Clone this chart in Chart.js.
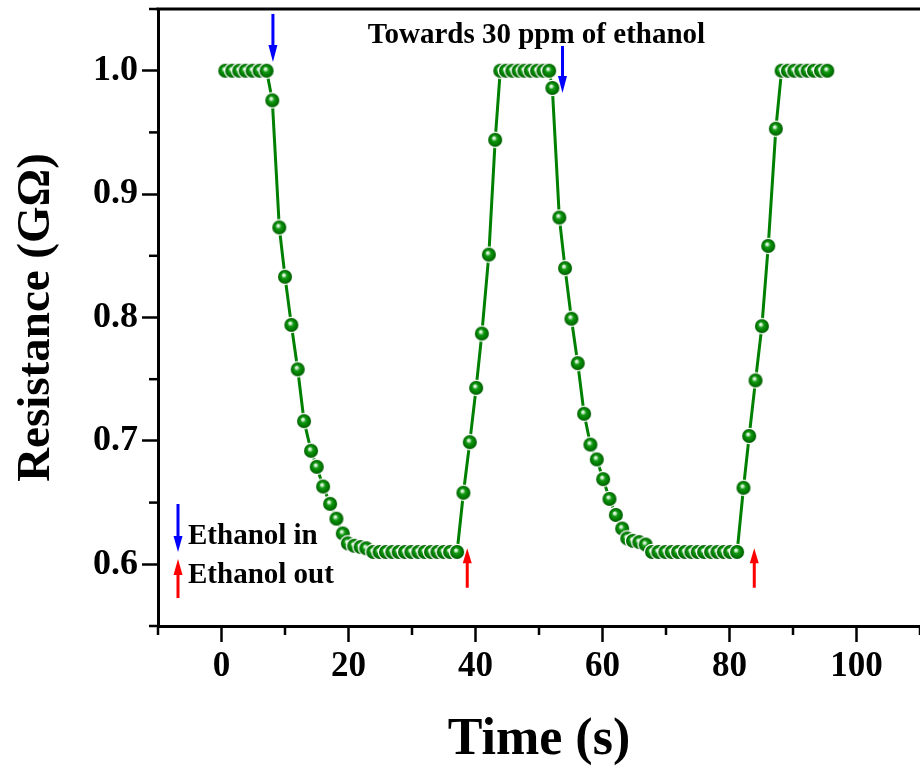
<!DOCTYPE html>
<html><head><meta charset="utf-8">
<script src="https://cdn.jsdelivr.net/npm/chart.js@4.4.1/dist/chart.umd.min.js"></script>
<style>html,body{margin:0;padding:0;background:#fff;}#wrap{width:920px;height:774px;}</style>
</head><body><div id="wrap"><canvas id="c" width="920" height="774"></canvas></div>
<script>
// ---- data ----
const timeS = [
  0.6,1.7,2.8,3.8,4.9,6.0,7.1,
  8.0,9.1,10.0,11.0,12.0,13.0,14.1,15.0,16.0,17.1,18.1,19.1,19.9,20.9,21.9,22.8,
  23.9,24.9,25.9,26.9,27.9,28.9,29.9,31.0,32.0,33.0,34.0,35.0,36.0,37.1,
  38.1,39.1,40.1,41.0,42.1,43.1,
  43.9,44.8,45.8,46.8,47.7,48.7,49.7,50.7,51.6,
  52.1,53.2,54.1,55.1,56.1,57.1,58.1,59.1,60.1,61.1,62.1,63.1,63.9,64.8,65.8,66.8,
  67.8,68.8,69.9,70.9,71.9,73.0,74.0,75.0,76.0,77.1,78.1,79.1,80.1,81.2,
  82.2,83.1,84.1,85.1,86.1,87.3,
  88.2,89.2,90.2,91.3,92.3,93.3,94.4,95.4
];
const resistanceGOhm = [
  1.0,1.0,1.0,1.0,1.0,1.0,1.0,
  0.976,0.873,0.833,0.794,0.758,0.716,0.692,0.679,0.663,0.649,0.637,0.625,0.617,0.615,0.614,0.613,
  0.61,0.61,0.61,0.61,0.61,0.61,0.61,0.61,0.61,0.61,0.61,0.61,0.61,0.61,
  0.658,0.699,0.743,0.787,0.851,0.944,
  1.0,1.0,1.0,1.0,1.0,1.0,1.0,1.0,1.0,
  0.986,0.881,0.840,0.799,0.763,0.722,0.697,0.685,0.669,0.653,0.640,0.629,0.621,0.619,0.618,0.616,
  0.61,0.61,0.61,0.61,0.61,0.61,0.61,0.61,0.61,0.61,0.61,0.61,0.61,0.61,
  0.662,0.704,0.749,0.793,0.858,0.953,
  1.0,1.0,1.0,1.0,1.0,1.0,1.0,1.0
];
const xTickLabels = ['0','20','40','60','80','100'];
const yTickLabels = ['0.6','0.7','0.8','0.9','1.0'];
const ethanolInTimes = [8.1, 53.7];
const ethanolInFrom  = [1.046, 1.020];
const ethanolInTo    = [1.007, 0.982];
const ethanolOutTimes = [38.7, 83.9];
const ethanolOutFrom  = [0.581, 0.581];
const ethanolOutTo    = [0.613, 0.613];
const noteText = 'Towards 30 ppm of ethanol';
const noteAt = [49.6, 1.0228];
const legendLabels = ['Ethanol in', 'Ethanol out'];
const xTitle = 'Time (s)';
const yTitle = 'Resistance (GΩ)';

// ---- styling ----
const SERIF = '"Liberation Serif", "Times New Roman", serif';
const GREEN = '#008000';

function sphere(r){
  const s = Math.ceil(2*r + 4);
  const c = document.createElement('canvas'); c.width = c.height = s;
  const g = c.getContext('2d'); const cx = s/2, cy = s/2;
  g.fillStyle = '#ffffff'; g.beginPath(); g.arc(cx, cy, r + 1.3, 0, 2*Math.PI); g.fill();
  const gr = g.createRadialGradient(cx - r*0.2, cy - r*0.3, 0, cx, cy, r);
  gr.addColorStop(0, '#ffffff');
  gr.addColorStop(0.18, '#c8ecc8');
  gr.addColorStop(0.4, '#159a15');
  gr.addColorStop(0.75, '#007a00');
  gr.addColorStop(1, '#005a00');
  g.fillStyle = gr; g.beginPath(); g.arc(cx, cy, r, 0, 2*Math.PI); g.fill();
  return c;
}
const ball = sphere(7);

function isMajorX(v){ return xTickLabels.indexOf(String(Math.round(v))) >= 0 && Math.abs(v - Math.round(v)) < 1e-6; }
function yLabel(v){ const r = Math.round(v*100); return (r % 10 === 0) ? (r/100).toFixed(1) : ''; }
function isMajorY(v){ return yTickLabels.indexOf(yLabel(v)) >= 0; }

function arrow(ctx, x, yTail, yTip, color, head, hw){
  const dir = Math.sign(yTip - yTail);
  ctx.save();
  ctx.strokeStyle = color; ctx.fillStyle = color; ctx.lineWidth = 3;
  ctx.beginPath(); ctx.moveTo(x, yTail); ctx.lineTo(x, yTip - dir*head*0.8); ctx.stroke();
  ctx.beginPath(); ctx.moveTo(x - hw, yTip - dir*head); ctx.lineTo(x + hw, yTip - dir*head); ctx.lineTo(x, yTip); ctx.closePath(); ctx.fill();
  ctx.restore();
}

const decor = {
  id: 'decor',
  afterDraw(chart){
    const {ctx, chartArea: a, scales: {x, y}} = chart;
    ctx.save();
    // top frame line
    ctx.strokeStyle = '#000'; ctx.lineWidth = 3;
    ctx.beginPath(); ctx.moveTo(a.left - 1.5, a.top); ctx.lineTo(a.right, a.top); ctx.stroke();
    // minor ticks
    ctx.lineWidth = 2.5;
    x.ticks.forEach(t => { if (!isMajorX(t.value)) { const px = x.getPixelForValue(t.value); ctx.beginPath(); ctx.moveTo(px, a.bottom); ctx.lineTo(px, a.bottom + 9); ctx.stroke(); } });
    y.ticks.forEach(t => { if (!isMajorY(t.value)) { const py = y.getPixelForValue(t.value); ctx.beginPath(); ctx.moveTo(a.left, py); ctx.lineTo(a.left - 9, py); ctx.stroke(); } });
    // arrows
    ethanolInTimes.forEach((t, i) => arrow(ctx, x.getPixelForValue(t), y.getPixelForValue(ethanolInFrom[i]), y.getPixelForValue(ethanolInTo[i]), '#0000ff', 17, 4.5));
    ethanolOutTimes.forEach((t, i) => arrow(ctx, x.getPixelForValue(t), y.getPixelForValue(ethanolOutFrom[i]), y.getPixelForValue(ethanolOutTo[i]), '#ff0000', 15, 4.5));
    // note
    ctx.fillStyle = '#000'; ctx.font = 'bold 29px ' + SERIF; ctx.textAlign = 'center'; ctx.textBaseline = 'alphabetic';
    ctx.fillText(noteText, x.getPixelForValue(noteAt[0]), y.getPixelForValue(noteAt[1]));
    // legend
    const lx = a.left + 20;
    arrow(ctx, lx, a.bottom - 122, a.bottom - 74, '#0000ff', 16, 4.5);
    arrow(ctx, lx, a.bottom - 28, a.bottom - 67, '#ff0000', 16, 4.5);
    ctx.textAlign = 'left';
    ctx.fillText(legendLabels[0], a.left + 30, a.bottom - 82);
    ctx.fillText(legendLabels[1], a.left + 30, a.bottom - 43);
    ctx.restore();
  }
};

new Chart(document.getElementById('c'), {
  type: 'scatter',
  data: { datasets: [{
    data: timeS.map((t, i) => ({x: t, y: resistanceGOhm[i]})),
    showLine: true,
    borderColor: GREEN,
    borderWidth: 3,
    pointStyle: ball,
    pointRadius: 7,
    pointHoverRadius: 7
  }]},
  options: {
    responsive: false,
    animation: false,
    events: [],
    layout: { autoPadding: false, padding: { top: 9, right: 0, left: 0, bottom: 0 } },
    plugins: { legend: { display: false }, tooltip: { enabled: false } },
    scales: {
      x: {
        type: 'linear', min: -10, max: 110,
        afterFit(s){ s.height = 148; s.paddingLeft = 0; s.paddingRight = 0; },
        border: { display: true, color: '#000', width: 3 },
        grid: { drawOnChartArea: false, drawTicks: true, tickLength: 16, tickWidth: 2.5,
                tickColor: c => (c.tick && isMajorX(c.tick.value)) ? '#000' : 'rgba(0,0,0,0)' },
        ticks: { stepSize: 10, autoSkip: false, maxRotation: 0, padding: 4, color: '#000',
                 font: { family: SERIF, size: 35, weight: 'bold' },
                 callback: v => isMajorX(v) ? String(Math.round(v)) : '' },
        title: { display: true, text: xTitle, color: '#000', padding: { top: 0, bottom: 2 },
                 font: { family: SERIF, size: 52, weight: 'bold' } }
      },
      y: {
        type: 'linear', min: 0.55, max: 1.05,
        afterFit(s){ s.width = 158; s.paddingTop = 0; s.paddingBottom = 0; },
        border: { display: true, color: '#000', width: 3 },
        grid: { drawOnChartArea: false, drawTicks: true, tickLength: 16, tickWidth: 2.5,
                tickColor: c => (c.tick && isMajorY(c.tick.value)) ? '#000' : 'rgba(0,0,0,0)' },
        ticks: { stepSize: 0.05, autoSkip: false, padding: 4, color: '#000',
                 font: { family: SERIF, size: 36, weight: 'bold' },
                 callback: v => isMajorY(v) ? yLabel(v) : '' },
        title: { display: true, text: yTitle, color: '#000', padding: { top: 9, bottom: 0 },
                 font: { family: SERIF, size: 47, weight: 'bold' } }
      }
    }
  },
  plugins: [decor]
});
</script></body></html>
